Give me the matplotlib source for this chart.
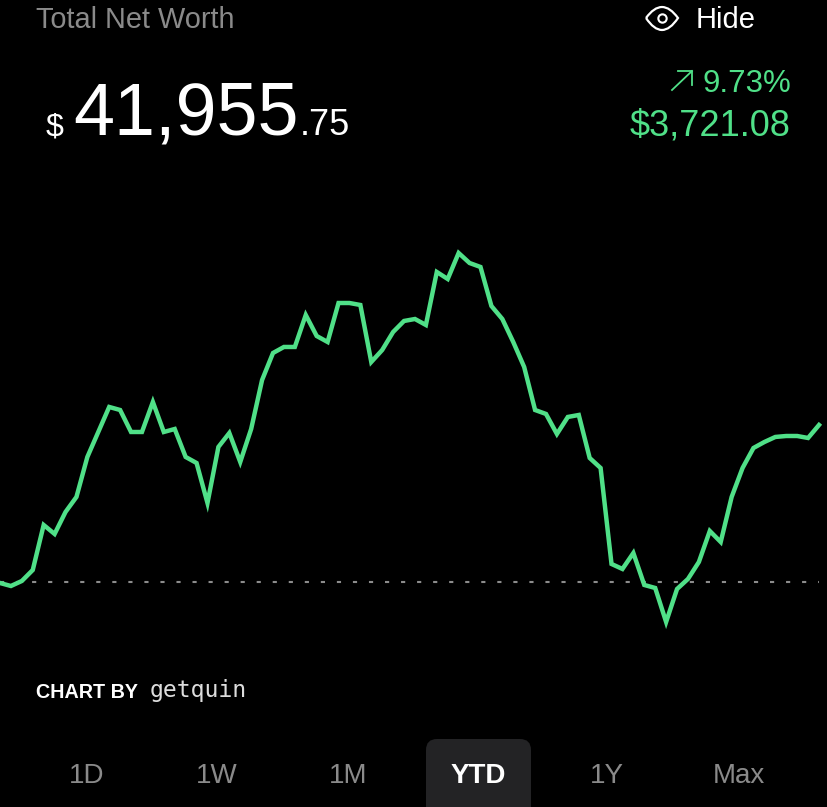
import matplotlib
matplotlib.use("Agg")
import matplotlib.pyplot as plt
from matplotlib.patches import FancyBboxPatch, PathPatch
from matplotlib.path import Path

# net worth, dollars
net_worth = [38211, 38140, 38259, 38519, 39586, 39373, 39894, 40250, 41198, 41790,
             42383, 42311, 41790, 41790, 42501, 41790, 41861, 41198, 41055, 40107,
             41435, 41766, 41079, 41861, 43022, 43662, 43805, 43805, 44563, 44065,
             43923, 44847, 44847, 44800, 43449, 43733, 44160, 44421, 44468, 44326,
             45582, 45416, 46032, 45795, 45701, 44776, 44468, 43923, 43331, 42311,
             42217, 41743, 42146, 42193, 41174, 40937, 38662, 38543, 38922, 38164,
             38093, 37287, 38069, 38306, 38709, 39444, 39183, 40250, 40937, 41411,
             41553, 41672, 41695, 41695, 41648, 41955.75]
start_value = 38234.67
periods = ["1D", "1W", "1M", "YTD", "1Y", "Max"]
period_x = [87, 217, 348, 478, 607, 739]

GREEN = "#50E088"
GREY = "#8A8A8A"
NARROW = ["Liberation Sans Narrow", "Liberation Sans"]

fig = plt.figure(figsize=(8.28, 8.07), dpi=100, facecolor="black")

# chart area, x runs from the left edge to about px 819
ax = fig.add_axes([0, (807 - 650) / 807, 819 / 828, 450 / 807])
ax.set_facecolor("none")
ax.axis("off")
ax.set_xlim(0, len(net_worth) - 1)
ax.set_ylim(start_value - 68 * 23.7, start_value + 382 * 23.7)
ax.axhline(start_value, color="#8C8C8C", lw=1.5, dashes=(2.0, 5.7), zorder=1)
ax.plot(net_worth, color=GREEN, lw=3.2, solid_joinstyle="miter", clip_on=False, zorder=2)

# overlay in pixels for the app chrome
ui = fig.add_axes([0, 0, 1, 1])
ui.set_facecolor("none")
ui.axis("off")
ui.set_xlim(0, 828)
ui.set_ylim(807, 0)


def label(x, y, s, size, color="white", ha="left", weight="normal", family=NARROW):
    ui.text(x, y, s, fontsize=size, color=color, ha=ha, va="baseline",
            fontweight=weight, family=family)


label(36, 28, "Total Net Worth", 20.8, GREY)
label(696, 28, "Hide", 21)
label(46, 135, "$", 23)
label(73, 135, "41,955", 53)
label(300, 135, ".75", 26)
label(791, 92, "9.73%", 22.5, GREEN, ha="right")
label(791, 136, "$3,721.08", 26, GREEN, ha="right")
label(36, 698, "CHART BY", 14.2, weight="bold")
label(150, 697, "getquin", 16.7, color="#DDDDDD", family="DejaVu Sans Mono")

# eye icon
eye = Path([(646, 18), (654, 7), (662, 7), (670, 7), (678, 18), (670, 30), (662, 30), (654, 30), (646, 18)],
           [Path.MOVETO] + [Path.CURVE3] * 8)
ui.add_patch(PathPatch(eye, fc="none", ec="white", lw=1.6))
ui.plot([662], [18], "o", ms=6, mfc="none", mec="white", mew=1.5)

# arrow next to the percentage
ui.plot([672, 692], [90, 71], color=GREEN, lw=1.3)
ui.plot([678, 692, 692], [71, 71, 85], color=GREEN, lw=1.3)

# selected period pill
ui.add_patch(FancyBboxPatch((426, 739), 105, 90, boxstyle="round,pad=0,rounding_size=11",
                            fc="#232325", ec="none"))
for name, x in zip(periods, period_x):
    if name == "YTD":
        label(x, 783, name, 20, ha="center", weight="bold")
    else:
        label(x, 783, name, 20, GREY, ha="center")

fig.savefig("out.png", dpi=100, facecolor="black")
